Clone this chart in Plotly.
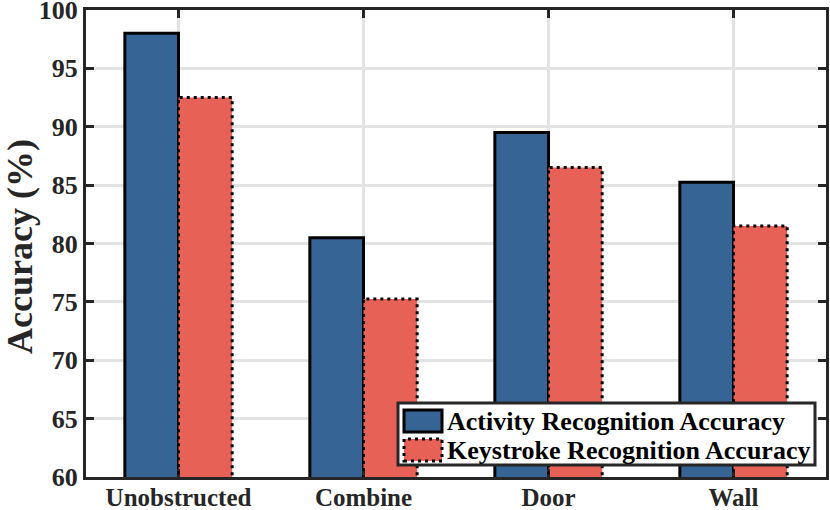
import plotly.graph_objects as go

categories = ["Unobstructed", "Combine", "Door", "Wall"]
activity_acc = [98.0, 80.5, 89.5, 85.25]
keystroke_acc = [92.5, 75.25, 86.5, 81.5]
series_names = ["Activity Recognition Accuracy", "Keystroke Recognition Accuracy"]
y_ticks = [60, 65, 70, 75, 80, 85, 90, 95, 100]
y_title = "Accuracy (%)"

BLUE = "#366494"
RED = "#E86157"
DARK = "#262626"
FONT = "Liberation Serif"
BW = 0.29

W, H = 830, 510
ML, MR, MT, MB = 86, 4, 10, 33
PW, PH = W - ML - MR, H - MT - MB


def px(x):
    return (x - ML) / PW


def py(y):
    return (H - MB - y) / PH


xs = list(range(len(categories)))

fig = go.Figure()
fig.add_trace(go.Bar(
    x=xs, y=activity_acc, width=BW, offset=-BW, name=series_names[0],
    marker=dict(color=BLUE, line=dict(color="black", width=3)),
    showlegend=False,
))
fig.add_trace(go.Bar(
    x=xs, y=keystroke_acc, width=BW, offset=0, name=series_names[1],
    marker=dict(color=RED, line=dict(width=0)),
    showlegend=False,
))

shapes = []
# dotted outlines of keystroke bars
for i, v in zip(xs, keystroke_acc):
    shapes.append(dict(type="rect", xref="x", yref="y", x0=i, x1=i + BW, y0=0, y1=v,
                       line=dict(color="black", width=3, dash="3px,4px"),
                       fillcolor="rgba(0,0,0,0)", layer="above"))

# legend box
shapes.append(dict(type="rect", xref="paper", yref="paper",
                   x0=px(398), x1=px(815), y0=py(465), y1=py(403),
                   line=dict(color=DARK, width=3), fillcolor="white", layer="above"))
shapes.append(dict(type="rect", xref="paper", yref="paper",
                   x0=px(404), x1=px(442), y0=py(432), y1=py(410),
                   line=dict(color="black", width=3), fillcolor=BLUE, layer="above"))
shapes.append(dict(type="rect", xref="paper", yref="paper",
                   x0=px(404), x1=px(442), y0=py(461), y1=py(439),
                   line=dict(color="black", width=3, dash="3px,4px"), fillcolor=RED, layer="above"))

annotations = [
    dict(x=px(445), y=py(421), xref="paper", yref="paper", text="<b>%s</b>" % series_names[0],
         showarrow=False, xanchor="left", yanchor="middle",
         font=dict(family=FONT, size=26, color="black")),
    dict(x=px(445), y=py(450), xref="paper", yref="paper", text="<b>%s</b>" % series_names[1],
         showarrow=False, xanchor="left", yanchor="middle",
         font=dict(family=FONT, size=26, color="black")),
    dict(x=px(20), y=py(247), xref="paper", yref="paper", text="<b>%s</b>" % y_title,
         showarrow=False, xanchor="center", yanchor="middle", textangle=-90,
         font=dict(family=FONT, size=36, color=DARK)),
]

fig.update_layout(
    width=W, height=H,
    margin=dict(l=ML, r=MR, t=MT, b=MB, autoexpand=False),
    paper_bgcolor="white", plot_bgcolor="white",
    barmode="overlay",
    shapes=shapes, annotations=annotations,
    font=dict(family=FONT, color=DARK),
)
fig.update_xaxes(
    range=[-0.5, 3.5], tickmode="array", tickvals=xs,
    ticktext=["<b>%s</b>" % c for c in categories],
    tickfont=dict(family=FONT, size=25, color=DARK),
    ticklabeloverflow="allow", automargin=False, ticklabelstandoff=-4,
    showgrid=True, gridcolor="#E3E3E3", gridwidth=3,
    showline=True, linecolor=DARK, linewidth=3, mirror="ticks",
    ticks="inside", ticklen=8, tickwidth=3, tickcolor=DARK,
    zeroline=False,
)
fig.update_yaxes(
    range=[60, 100], tickmode="array", tickvals=y_ticks,
    ticktext=["<b>%d</b>" % t for t in y_ticks],
    tickfont=dict(family=FONT, size=26, color=DARK),
    ticklabeloverflow="allow", automargin=False,
    showgrid=True, gridcolor="#E3E3E3", gridwidth=3,
    showline=True, linecolor=DARK, linewidth=3, mirror="ticks",
    ticks="inside", ticklen=8, tickwidth=3, tickcolor=DARK,
    zeroline=False,
)

fig.write_html("out.html", config={"displayModeBar": False},
               post_script="document.body.style.margin='0';")
